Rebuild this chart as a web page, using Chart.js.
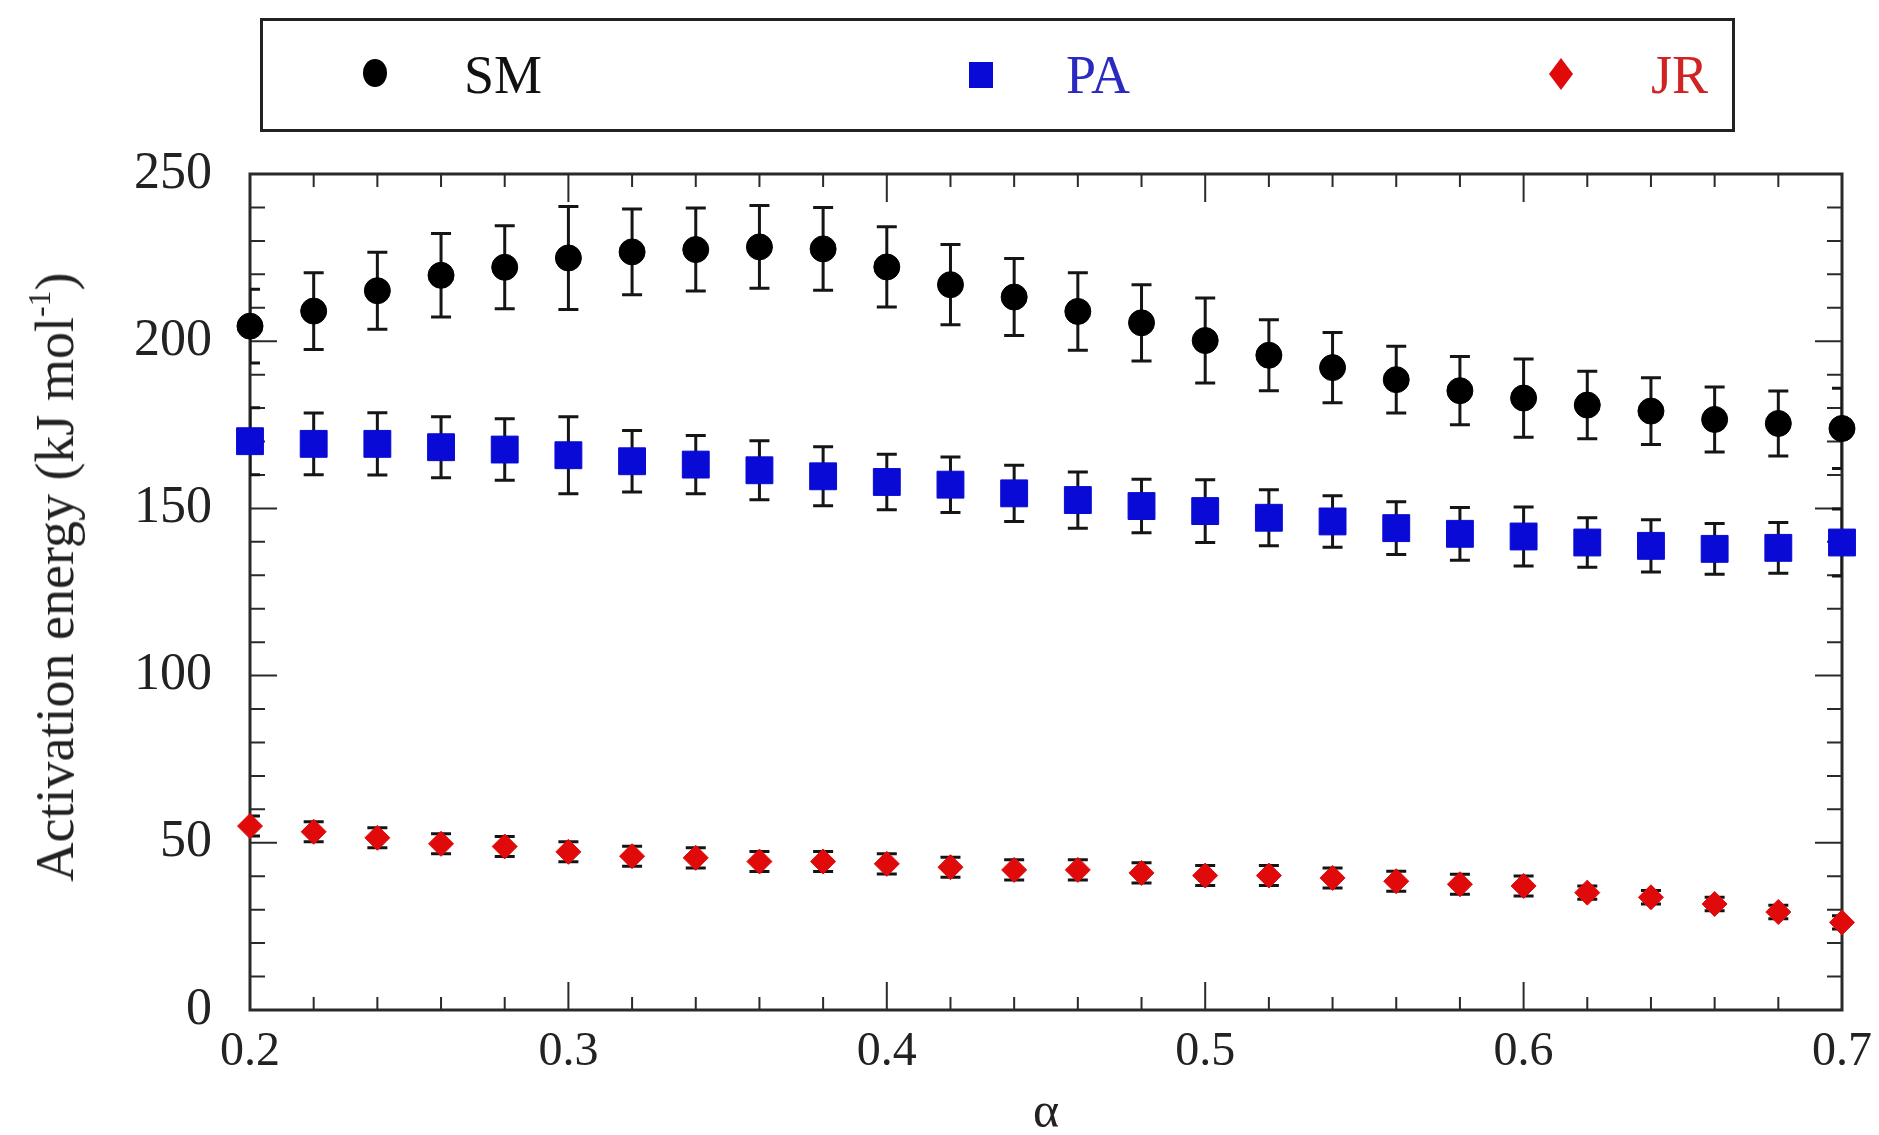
<!DOCTYPE html>
<html>
<head>
<meta charset="utf-8">
<script src="https://cdn.jsdelivr.net/npm/chart.js@4.4.1/dist/chart.umd.min.js"></script>
<style>
  html, body { margin: 0; padding: 0; background: #fff; }
  #wrap { position: relative; width: 1879px; height: 1135px; overflow: hidden; font-family: "Liberation Serif", "Times New Roman", serif; }
  canvas { position: absolute; left: 0; top: 0; }
  #legend { position: absolute; left: 260px; top: 18px; width: 1469px; height: 108px; border: 3px solid #222; background: #fff; }
  .li { position: absolute; top: 0; height: 108px; display: flex; align-items: center; font-size: 54px; }
  .mk { position: absolute; }
  #ytitle { position: absolute; left: 55px; top: 577px; transform: translate(-50%, -50%) rotate(-90deg); white-space: nowrap; font-size: 54px; color: #222; }
  #ytitle sup { font-size: 32px; position: relative; top: -4px; }
  #xtitle { position: absolute; left: 1046px; top: 1110px; transform: translate(-50%, -50%); font-size: 50px; color: #222; }
</style>
</head>
<body>
<div id="wrap">
  <canvas id="c" width="1879" height="1135"></canvas>
  <div id="legend">
    <svg class="mk" style="left:98px;top:36px" width="28" height="32"><ellipse cx="14" cy="16" rx="12" ry="14" fill="#000"/></svg>
    <div class="li" style="left:201px;color:#111">SM</div>
    <svg class="mk" style="left:705px;top:40px" width="26" height="28"><rect x="1" y="1" width="24" height="26" fill="#0a0ad6"/></svg>
    <div class="li" style="left:803px;color:#2a2ac0">PA</div>
    <svg class="mk" style="left:1285px;top:36px" width="26" height="34"><polygon points="13,1 25,17 13,33 1,17" fill="#e00a0a"/></svg>
    <div class="li" style="left:1388px;color:#d02424">JR</div>
  </div>
  <div id="ytitle">Activation energy (kJ mol<sup>-1</sup>)</div>
  <div id="xtitle">α</div>
</div>
<script>
const alpha = [0.20,0.22,0.24,0.26,0.28,0.30,0.32,0.34,0.36,0.38,0.40,0.42,0.44,0.46,0.48,0.50,0.52,0.54,0.56,0.58,0.60,0.62,0.64,0.66,0.68,0.70];
const smValues = [204.5,209.0,215.1,219.7,222.1,224.9,226.7,227.4,228.2,227.6,222.2,216.9,213.2,208.9,205.5,200.2,195.8,192.1,188.5,185.2,183.0,180.9,179.1,176.6,175.4,173.9];
const smErrors = [11,11.5,11.5,12.5,12.4,15.4,12.8,12.4,12.4,12.4,12,12,11.5,11.6,11.4,12.7,10.6,10.5,10,10.2,11.7,10.1,10,9.7,9.7,12];
const paValues = [170.1,169.3,169.3,168.3,167.6,165.9,164.1,163.1,161.4,159.6,157.9,157.1,154.5,152.5,150.7,149.2,147.2,146.1,144.1,142.4,141.6,139.8,138.8,137.9,138.2,139.8];
const paErrors = [10,9.2,9.3,9.1,9.2,11.5,9.2,8.7,8.8,8.8,8.3,8.3,8.4,8.4,8,9.4,8.4,7.7,7.9,7.9,8.8,7.4,7.8,7.6,7.6,10];
const jrValues = [55.0,53.3,51.5,49.7,48.9,47.3,46.0,45.5,44.4,44.4,43.7,42.7,41.9,41.9,41.0,40.2,40.2,39.5,38.5,37.6,37.1,35.1,33.7,31.7,29.3,26.2];
const jrErrors = [3,3,3,3,3,3,3,3,3,3,3,3,3,3,3,3,3,3,3,3,3,2,2,2,2,2];
const xTickLabels = ['0.2','0.3','0.4','0.5','0.6','0.7'];
const yTickLabels = ['0','50','100','150','200','250'];

function pts(vals, errs) {
  return alpha.map((a, i) => ({ x: a, y: vals[i], err: errs[i] }));
}
function isMajorX(v) { return Math.abs(v * 10 - Math.round(v * 10)) < 1e-6; }
function isMajorY(v) { return Math.abs(v / 50 - Math.round(v / 50)) < 1e-6; }

const framePlugin = {
  id: 'frameTicks',
  beforeDatasetsDraw(chart) {
    const ctx = chart.ctx, a = chart.chartArea;
    const xs = chart.scales.x, ys = chart.scales.y;
    ctx.save();
    ctx.strokeStyle = '#2a2a2a';
    ctx.lineWidth = 2;
    xs.ticks.forEach(t => {
      const px = xs.getPixelForValue(t.value);
      const len = isMajorX(t.value) ? 28 : 13;
      ctx.beginPath();
      ctx.moveTo(px, a.bottom); ctx.lineTo(px, a.bottom - len);
      ctx.moveTo(px, a.top); ctx.lineTo(px, a.top + len);
      ctx.stroke();
    });
    ys.ticks.forEach(t => {
      const py = ys.getPixelForValue(t.value);
      const len = isMajorY(t.value) ? 27 : 15;
      ctx.beginPath();
      ctx.moveTo(a.left, py); ctx.lineTo(a.left + len, py);
      ctx.moveTo(a.right, py); ctx.lineTo(a.right - len, py);
      ctx.stroke();
    });
    ctx.lineWidth = 3;
    ctx.strokeRect(a.left, a.top, a.right - a.left, a.bottom - a.top);
    // error bars, clipped to the plot area
    ctx.beginPath();
    ctx.rect(a.left, a.top, a.right - a.left, a.bottom - a.top);
    ctx.clip();
    ctx.strokeStyle = '#151515';
    ctx.lineWidth = 3;
    chart.data.datasets.forEach(ds => {
      ds.data.forEach(p => {
        if (!p.err) return;
        const px = xs.getPixelForValue(p.x);
        const yt = ys.getPixelForValue(p.y + p.err);
        const yb = ys.getPixelForValue(p.y - p.err);
        ctx.beginPath();
        ctx.moveTo(px, yt); ctx.lineTo(px, yb);
        ctx.moveTo(px - 10, yt); ctx.lineTo(px + 10, yt);
        ctx.moveTo(px - 10, yb); ctx.lineTo(px + 10, yb);
        ctx.stroke();
      });
    });
    ctx.restore();
  }
};

new Chart(document.getElementById('c'), {
  type: 'scatter',
  data: {
    datasets: [
      { label: 'SM', data: pts(smValues, smErrors), pointStyle: 'circle', pointRadius: 13, pointHoverRadius: 13,
        backgroundColor: '#000', borderColor: '#000', borderWidth: 1, clip: false },
      { label: 'PA', data: pts(paValues, paErrors), pointStyle: 'rect', pointRadius: 19, pointHoverRadius: 19,
        backgroundColor: '#0a0ad6', borderColor: '#0a0ad6', borderWidth: 1, clip: false },
      { label: 'JR', data: pts(jrValues, jrErrors), pointStyle: 'rectRot', pointRadius: 12.5, pointHoverRadius: 12.5,
        backgroundColor: '#e00a0a', borderColor: '#e00a0a', borderWidth: 1, clip: false }
    ]
  },
  options: {
    responsive: false,
    animation: false,
    devicePixelRatio: 1,
    layout: { padding: { top: 174, right: 37, left: 0, bottom: 0 } },
    plugins: { legend: { display: false }, tooltip: { enabled: false } },
    scales: {
      x: {
        type: 'linear', min: 0.2, max: 0.7,
        grid: { display: false, drawTicks: false },
        border: { display: false },
        ticks: {
          stepSize: 0.02, autoSkip: false, maxRotation: 0, padding: 14,
          color: '#222', font: { family: 'Liberation Serif', size: 48 },
          callback: (v) => isMajorX(v) ? xTickLabels[Math.round(v * 10) - 2] : ''
        },
        afterFit: (s) => { s.height = 125; s.paddingLeft = 0; s.paddingRight = 0; }
      },
      y: {
        type: 'linear', min: 0, max: 250,
        grid: { display: false, drawTicks: false },
        border: { display: false },
        ticks: {
          stepSize: 10, autoSkip: false, padding: 38,
          color: '#222', font: { family: 'Liberation Serif', size: 52 },
          callback: (v) => isMajorY(v) ? yTickLabels[Math.round(v / 50)] : ''
        },
        afterFit: (s) => { s.width = 250; s.paddingTop = 0; s.paddingBottom = 0; }
      }
    }
  },
  plugins: [framePlugin]
});
</script>
</body>
</html>
